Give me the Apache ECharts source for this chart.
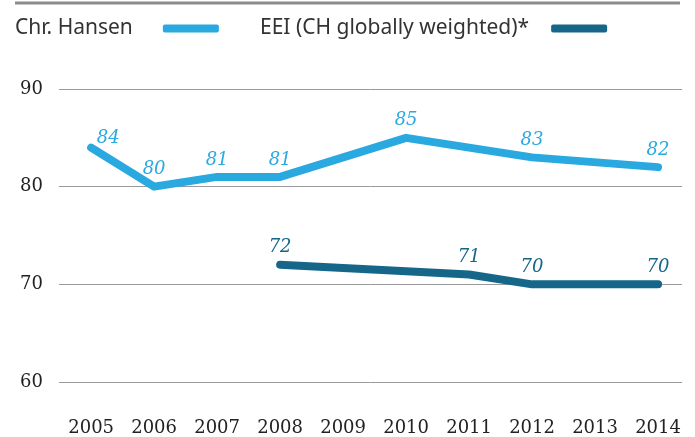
<!DOCTYPE html>
<html>
<head>
<meta charset="utf-8">
<script src="https://cdn.jsdelivr.net/npm/echarts@6/dist/echarts.min.js"></script>
<style>
  html, body { margin: 0; padding: 0; background: #fff; }
  #main { width: 695px; height: 437px; }
</style>
</head>
<body>
<div id="main"></div>
<script>
  // years on the x axis
  var years = [2005, 2006, 2007, 2008, 2009, 2010, 2011, 2012, 2013, 2014];
  // null = no value reported that year (line runs straight across)
  var chrHansen = [84, 80, 81, 81, null, 85, null, 83, null, 82];
  var eei = [null, null, null, 72, null, null, 71, 70, null, 70];
  var yTicks = [60, 70, 80, 90];

  var lightBlue = '#29a9e0';
  var darkTeal = '#156689';
  var serif = '"DejaVu Serif", serif';
  var sans = '"Noto Sans", sans-serif';

  function pairs(vals) {
    var out = [];
    for (var i = 0; i < years.length; i++) {
      if (vals[i] != null) out.push([years[i], vals[i]]);
    }
    return out;
  }

  var hansenData = pairs(chrHansen);
  // first label sits up and right of the 2005 point
  hansenData[0] = { value: hansenData[0], label: { offset: [17, 8] } };

  var labelStyle = function (color) {
    return {
      show: true,
      position: 'top',
      distance: 8,
      color: color,
      fontFamily: serif,
      fontStyle: 'italic',
      fontSize: 18
    };
  };

  var legendBase = function (left, name, gap) {
    return {
      left: left,
      top: 18,
      padding: 0,
      align: 'right',
      icon: 'roundRect',
      itemWidth: 56,
      itemHeight: 8,
      data: [name],
      textStyle: { fontFamily: sans, fontSize: 21, color: '#333', padding: [0, gap, 0, 0] }
    };
  };

  var chart = echarts.init(document.getElementById('main'));
  chart.setOption({
    animation: false,
    graphic: [{
      type: 'line',
      shape: { x1: 15, y1: 3, x2: 680, y2: 3 },
      style: { stroke: '#8c8c8c', lineWidth: 3 }
    }],
    legend: [
      legendBase(15, 'Chr. Hansen', 25),
      legendBase(260, 'EEI (CH globally weighted)*', 17)
    ],
    grid: { left: 59, right: 13, top: 89, bottom: 53 },
    xAxis: {
      type: 'value',
      min: 2004.49,
      max: 2014.38,
      axisLine: { show: false },
      axisTick: { show: false },
      splitLine: { show: false },
      axisLabel: {
        customValues: years,
        margin: 37,
        color: '#222',
        fontFamily: serif,
        fontSize: 18,
        formatter: function (v) { return String(v); }
      }
    },
    yAxis: {
      type: 'value',
      min: 60,
      max: 90,
      interval: 10,
      axisLine: { show: false },
      axisTick: { show: false },
      splitLine: { lineStyle: { color: '#9a9a9a', width: 1 } },
      axisLabel: {
        margin: 16,
        color: '#222',
        fontFamily: serif,
        fontSize: 18,
        customValues: yTicks
      }
    },
    series: [{
      name: 'Chr. Hansen',
      type: 'line',
      color: lightBlue,
      data: hansenData,
      connectNulls: true,
      showSymbol: true,
      symbol: 'circle',
      symbolSize: 0.1,
      lineStyle: { width: 8, cap: 'round', join: 'round', color: lightBlue },
      label: labelStyle(lightBlue)
    }, {
      name: 'EEI (CH globally weighted)*',
      type: 'line',
      color: darkTeal,
      data: pairs(eei),
      connectNulls: true,
      showSymbol: true,
      symbol: 'circle',
      symbolSize: 0.1,
      lineStyle: { width: 8, cap: 'round', join: 'round', color: darkTeal },
      label: labelStyle(darkTeal)
    }]
  });
</script>
</body>
</html>
